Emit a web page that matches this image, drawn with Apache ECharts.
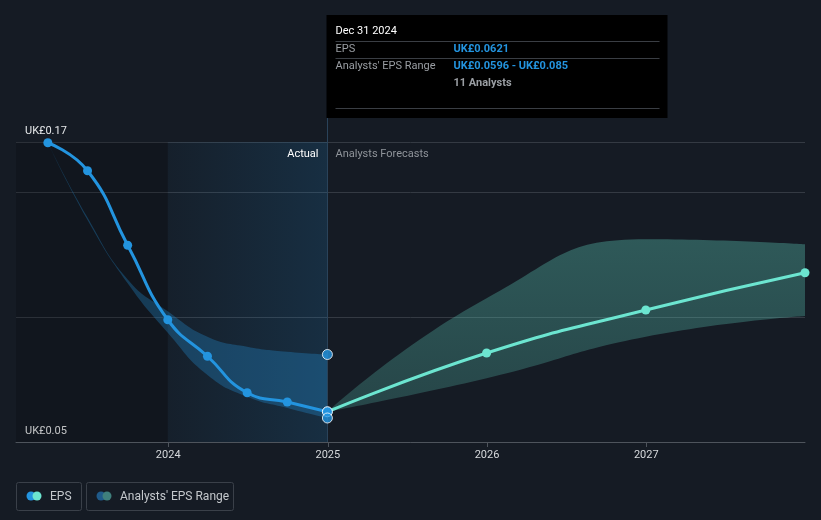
<!DOCTYPE html>
<html><head><meta charset="utf-8">
<script src="https://cdn.jsdelivr.net/npm/echarts@6/dist/echarts.min.js"></script>
<style>html,body{margin:0;padding:0;background:#151b24}#c{width:821px;height:520px}</style>
</head><body><div id="c"></div>
<script>
// ---- data ----
const actualDates = ['2023-03-31','2023-06-30','2023-09-30','2023-12-31','2024-03-31','2024-06-30','2024-09-30','2024-12-31'];
const actualEps = [0.1697,0.1585,0.1287,0.0989,0.0843,0.0697,0.0660,0.0621];
const actualRangeLow = [0.1697,0.1388,0.1135,0.0937,0.0768,0.0681,0.0636,0.0596];
const actualRangeHigh = [0.1697,0.1398,0.1150,0.1023,0.0921,0.0881,0.0861,0.0850];
const forecastDates = ['2024-12-31','2025-12-31','2026-12-31','2027-12-31'];
const forecastEps = [0.0621,0.0856,0.1028,0.1177];
const forecastLow = [0.0621,0.0755,0.0921,0.1004];
const forecastHigh = [0.0621,0.1075,0.1311,0.1291];
const yLabelValues = [0.05, 0.17];
const xLabelDates = ['2024-01-01','2025-01-01','2026-01-01','2027-01-01'];
const tooltipDate = 'Dec 31 2024';
const analystCount = 11;
const currency = 'UK£';

const FONT = 'Roboto, "Noto Sans", sans-serif';
const BLUE = '#2394df', TEAL = '#6ce5d0';
const chart = echarts.init(document.getElementById('c'));
const ts = d => Date.UTC(+d.slice(0,4), +d.slice(5,7) - 1, +d.slice(8,10));
const pair = (ds, vs) => ds.map((d, i) => [ts(d), vs[i]]);
// band series: value first so that stacking applies to the value dimension
const bandLow = (ds, lo) => ds.map((d, i) => [lo[i], ts(d)]);
const bandDiff = (ds, lo, hi) => ds.map((d, i) => [+(hi[i] - lo[i]).toFixed(6), ts(d)]);
const lastActual = actualDates[actualDates.length - 1];
const firstActualYearEnd = actualDates[3];
const bandBase = { type: 'line', smooth: 0.5, symbol: 'none', lineStyle: { opacity: 0 }, silent: true, encode: { x: 1, y: 0 } };

const option = {
  backgroundColor: '#151b24',
  animation: false,
  textStyle: { fontFamily: FONT },
  grid: { left: 16, right: 16, top: 142, bottom: 78, containLabel: false, outerBoundsMode: 'none' },
  xAxis: {
    type: 'value', min: ts('2023-01-17'), max: ts('2027-12-31'),
    axisLine: { lineStyle: { color: '#4e545c', width: 1 } },
    axisTick: { show: true, length: 5, customValues: xLabelDates.map(ts), lineStyle: { color: '#4e545c' } },
    axisLabel: { customValues: xLabelDates.map(ts), formatter: v => String(new Date(v).getUTCFullYear()), color: '#d6d9dc', fontSize: 11, margin: 8, fontFamily: FONT },
    splitLine: { show: false }
  },
  yAxis: {
    type: 'value', min: 0.05, max: 0.17, interval: 0.05,
    axisLine: { show: false }, axisTick: { show: false },
    axisLabel: { inside: true, customValues: yLabelValues, formatter: v => currency + (+v.toFixed(2)), color: '#e6e8ea', fontSize: 11, verticalAlign: 'bottom', margin: 9, padding: [0, 0, 5, 0], fontFamily: FONT },
    splitLine: { lineStyle: { color: '#343a43', width: 1 } }
  },
  series: [
    Object.assign({}, bandBase, { stack: 'past', data: bandLow(actualDates, actualRangeLow), z: 1,
      markArea: { silent: true, data: [
        [{ xAxis: ts('2023-01-17'), itemStyle: { color: 'rgba(0,0,0,0.16)' } }, { xAxis: ts(firstActualYearEnd) }],
        [{ xAxis: ts(firstActualYearEnd), itemStyle: { color: new echarts.graphic.LinearGradient(0, 0, 1, 0, [{ offset: 0, color: 'rgba(35,148,223,0.04)' }, { offset: 1, color: 'rgba(35,148,223,0.16)' }]) } }, { xAxis: ts(lastActual) }]
      ] } }),
    Object.assign({}, bandBase, { stack: 'past', data: bandDiff(actualDates, actualRangeLow, actualRangeHigh), areaStyle: { color: 'rgba(35,148,223,0.30)', opacity: 1 }, z: 2 }),
    Object.assign({}, bandBase, { stack: 'fc', data: bandLow(forecastDates, forecastLow), z: 1 }),
    Object.assign({}, bandBase, { stack: 'fc', data: bandDiff(forecastDates, forecastLow, forecastHigh),
      areaStyle: { opacity: 1, color: new echarts.graphic.LinearGradient(0, 0, 0, 1, [{ offset: 0, color: 'rgba(100,220,200,0.32)' }, { offset: 1, color: 'rgba(100,220,200,0.22)' }]) }, z: 2 }),
    { type: 'line', data: pair(forecastDates, forecastEps).map((p, i) => i === 0 ? { value: p, symbolSize: 0 } : p), smooth: 0.5, symbol: 'circle', symbolSize: 9, showSymbol: true,
      lineStyle: { color: TEAL, width: 3 }, itemStyle: { color: TEAL }, z: 5 },
    { type: 'line', data: pair(actualDates, actualEps).map((p, i, a) => i === a.length - 1 ? { value: p, symbolSize: 10, itemStyle: { color: BLUE, borderColor: '#ffffff', borderWidth: 1 } } : p),
      smooth: 0.5, symbol: 'circle', symbolSize: 9, lineStyle: { color: BLUE, width: 3 }, itemStyle: { color: BLUE }, z: 6 },
    { type: 'scatter', data: [[ts(lastActual), actualRangeHigh[actualRangeHigh.length - 1]], [ts(lastActual), actualRangeLow[actualRangeLow.length - 1]]],
      symbolSize: 10, itemStyle: { color: BLUE, borderColor: '#ffffff', borderWidth: 1 }, z: 7 }
  ]
};
chart.setOption(option);

const lx = chart.convertToPixel({ gridIndex: 0 }, [ts(lastActual), 0.17]);
const bx = chart.convertToPixel({ gridIndex: 0 }, [ts(lastActual), 0.05]);
const X = Math.round(lx[0]) + 0.5, TOP = lx[1], BOT = bx[1];
const tipL = X - 1, tipW = 341, tipT = 15, tipH = 103;
const grey = '#9a9ea3';
const tx = (x, y, text, fill, size, weight, align) => ({ type: 'text', x, y, style: { text, fill, fontSize: size, fontWeight: weight || 'normal', fontFamily: FONT, align: align || 'left', verticalAlign: 'middle' }, z: 100 });
const hl = (y) => ({ type: 'line', shape: { x1: tipL + 9, y1: y + 0.5, x2: tipL + 333, y2: y + 0.5 }, style: { stroke: '#3a3e44', lineWidth: 1 }, z: 100 });
const last = a => a[a.length - 1];
const graphic = [
  { type: 'line', shape: { x1: X, y1: tipT + tipH, x2: X, y2: BOT }, style: { stroke: '#2a435a', lineWidth: 1 }, z: 3 },
  tx(X - 9, TOP + 12, 'Actual', '#ffffff', 11, 'normal', 'right'),
  tx(X + 8, TOP + 12, 'Analysts Forecasts', '#8f949a', 11, 'normal', 'left'),
  { type: 'rect', shape: { x: tipL, y: tipT, width: tipW, height: tipH }, style: { fill: '#000000' }, z: 99 },
  tx(tipL + 9, 31, tooltipDate, '#ffffff', 11, 'normal'),
  hl(41),
  tx(tipL + 9, 49, 'EPS', grey, 11),
  tx(tipL + 127, 49, currency + last(actualEps), BLUE, 11, 'bold'),
  hl(58),
  tx(tipL + 9, 66, "Analysts' EPS Range", grey, 11),
  tx(tipL + 127, 66, currency + last(actualRangeLow) + ' - ' + currency + +last(actualRangeHigh).toFixed(3), BLUE, 11, 'bold'),
  tx(tipL + 127, 83, analystCount + ' Analysts', grey, 11, 'bold'),
  hl(108),
  { type: 'rect', shape: { x: 16.5, y: 482.5, width: 65, height: 28, r: 2 }, style: { fill: 'none', stroke: '#3a4049', lineWidth: 1 }, z: 100 },
  { type: 'circle', shape: { cx: 31, cy: 496, r: 4.5 }, style: { fill: BLUE }, z: 100 },
  { type: 'circle', shape: { cx: 37, cy: 496, r: 4.5 }, style: { fill: TEAL }, z: 101 },
  tx(50, 497, 'EPS', '#c4c8cc', 12),
  { type: 'rect', shape: { x: 86.5, y: 482.5, width: 147, height: 28, r: 2 }, style: { fill: 'none', stroke: '#3a4049', lineWidth: 1 }, z: 100 },
  { type: 'circle', shape: { cx: 101, cy: 496, r: 4.5 }, style: { fill: '#1f5a8a' }, z: 100 },
  { type: 'circle', shape: { cx: 107, cy: 496, r: 4.5 }, style: { fill: '#3f7f7c' }, z: 101 },
  tx(120, 497, "Analysts' EPS Range", '#c4c8cc', 12)
];
chart.setOption({ graphic });
</script></body></html>
